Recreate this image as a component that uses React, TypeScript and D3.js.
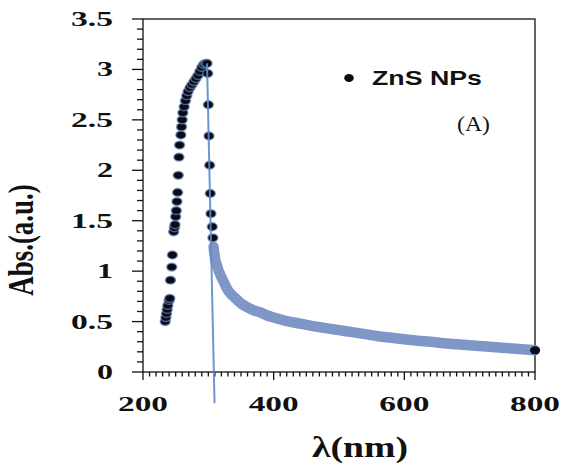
import React, { useEffect, useRef } from "react";
import * as d3 from "d3";

// rising edge + peak + steep fall (drawn as separate dots)
const sparseWl = [
  234, 235, 236, 237, 238, 240, 241, 242, 244, 245, 247, 248, 249, 250, 251,
  252, 253, 254, 255, 256, 258, 259, 260, 261, 263, 265, 267, 269, 272, 275,
  278, 281, 284, 287, 290, 293, 296, 298, 299, 300, 301, 302, 303, 304, 306,
  307,
];
const sparseAbs = [
  0.5, 0.54, 0.58, 0.62, 0.66, 0.71, 0.73, 0.91, 1.04, 1.16, 1.39, 1.43, 1.46,
  1.54, 1.6, 1.69, 1.78, 1.95, 2.13, 2.25, 2.35, 2.43, 2.5, 2.57, 2.63, 2.69,
  2.74, 2.78, 2.82, 2.85, 2.88, 2.91, 2.94, 2.98, 3.02, 3.05, 3.06, 3.06, 2.96,
  2.65, 2.34, 2.05, 1.77, 1.57, 1.44, 1.33,
];

// dense tail, points so close they merge into a band
const tailWl = [
  308, 309, 310, 311, 312, 314, 316, 318, 320, 323, 326, 330, 335, 340, 345,
  350, 360, 370, 380, 390, 400, 420, 440, 460, 480, 500, 520, 540, 560, 580,
  600, 620, 640, 660, 680, 700, 720, 740, 760, 780, 800,
];
const tailAbs = [
  1.24, 1.18, 1.14, 1.1, 1.08, 1.04, 1.0, 0.97, 0.94, 0.9, 0.86, 0.81, 0.77,
  0.74, 0.71, 0.68, 0.64, 0.61, 0.59, 0.56, 0.54, 0.505, 0.48, 0.455, 0.435,
  0.415, 0.395, 0.375, 0.355, 0.34, 0.325, 0.31, 0.3, 0.285, 0.275, 0.265,
  0.255, 0.245, 0.235, 0.225, 0.215,
];

// tangent used for the band gap estimate
const fitWl = [298, 309.5];
const fitAbs = [3.06, -0.31];

const yTickVals = [0, 0.5, 1, 1.5, 2, 2.5, 3, 3.5];
const yTickLabels = ["0", "0.5", "1", "1.5", "2", "2.5", "3", "3.5"];
const xTickVals = [200, 400, 600, 800];
const xTickLabels = ["200", "400", "600", "800"];

const W = 563;
const H = 466;
const plot = { left: 143, right: 535, top: 19, bottom: 372 };
const serif = "'Liberation Serif', 'Times New Roman', serif";

const App: React.FC = () => {
  const svgRef = useRef<SVGSVGElement | null>(null);

  useEffect(() => {
    if (!svgRef.current) return;
    const svg = d3.select(svgRef.current);
    svg.selectAll("*").remove();

    const x = d3.scaleLinear().domain([200, 800]).range([plot.left, plot.right]);
    const y = d3.scaleLinear().domain([0, 3.5]).range([plot.bottom, plot.top]);

    svg.append("rect").attr("width", W).attr("height", H).attr("fill", "#fff");

    // frame
    svg
      .append("rect")
      .attr("x", plot.left)
      .attr("y", plot.top)
      .attr("width", plot.right - plot.left)
      .attr("height", plot.bottom - plot.top)
      .attr("fill", "none")
      .attr("stroke", "#111")
      .attr("stroke-width", 1.3);

    const ticks = svg.append("g").attr("stroke", "#111").attr("stroke-width", 1.3);

    // y ticks (minor every 0.1, major every 0.5)
    ticks
      .selectAll("line.ym")
      .data(d3.range(0, 36).map((i) => i / 10))
      .enter()
      .append("line")
      .attr("x1", (d) => plot.left - (Math.abs(d * 2 - Math.round(d * 2)) < 1e-6 ? 11 : 6))
      .attr("x2", plot.left)
      .attr("y1", (d) => y(d))
      .attr("y2", (d) => y(d));

    // x ticks (minor every 10, major every 200)
    ticks
      .selectAll("line.xm")
      .data(d3.range(200, 801, 10))
      .enter()
      .append("line")
      .attr("x1", (d) => x(d))
      .attr("x2", (d) => x(d))
      .attr("y1", plot.bottom)
      .attr("y2", (d) => plot.bottom + (d % 200 === 0 ? 8 : 4.5));

    // y tick labels
    svg
      .append("g")
      .selectAll("text")
      .data(yTickVals)
      .enter()
      .append("text")
      .attr("x", 113)
      .attr("y", (d) => y(d) + 7)
      .attr("text-anchor", "end")
      .attr("font-family", serif)
      .attr("font-weight", "bold")
      .attr("font-size", 21)
      .attr("fill", "#111")
      .attr("textLength", (_, i) => (yTickLabels[i].length === 1 ? 16 : 42))
      .attr("lengthAdjust", "spacingAndGlyphs")
      .text((_, i) => yTickLabels[i]);

    // x tick labels
    svg
      .append("g")
      .selectAll("text")
      .data(xTickVals)
      .enter()
      .append("text")
      .attr("x", (d) => x(d) - 25)
      .attr("y", 411)
      .attr("font-family", serif)
      .attr("font-weight", "bold")
      .attr("font-size", 22)
      .attr("fill", "#111")
      .attr("textLength", 50)
      .attr("lengthAdjust", "spacingAndGlyphs")
      .text((_, i) => xTickLabels[i]);

    // axis titles
    svg
      .append("text")
      .attr("transform", "translate(33,240) scale(1.3,1) rotate(-90)")
      .attr("text-anchor", "middle")
      .attr("font-family", serif)
      .attr("font-weight", "bold")
      .attr("font-size", 27)
      .attr("fill", "#111")
      .text("Abs.(a.u.)");

    svg
      .append("text")
      .attr("x", 312)
      .attr("y", 457)
      .attr("font-family", serif)
      .attr("font-weight", "bold")
      .attr("font-size", 29)
      .attr("fill", "#111")
      .attr("textLength", 96)
      .attr("lengthAdjust", "spacingAndGlyphs")
      .text("λ(nm)");

    // dense tail as a band
    const tail = tailWl.map((w, i) => [w, tailAbs[i]] as [number, number]);
    svg
      .append("path")
      .datum(tail)
      .attr("fill", "none")
      .attr("stroke", "#7f97c6")
      .attr("stroke-width", 10.5)
      .attr("stroke-linecap", "round")
      .attr("stroke-linejoin", "round")
      .attr(
        "d",
        d3
          .line<[number, number]>()
          .x((d) => x(d[0]))
          .y((d) => y(d[1]))
          .curve(d3.curveMonotoneX)
      );

    // discrete dots
    svg
      .append("g")
      .selectAll("ellipse")
      .data(sparseWl.map((w, i) => [w, sparseAbs[i]]))
      .enter()
      .append("ellipse")
      .attr("cx", (d) => x(d[0]))
      .attr("cy", (d) => y(d[1]))
      .attr("rx", 5)
      .attr("ry", 3.9)
      .attr("fill", "#0b0b14")
      .attr("stroke", "rgba(100,130,185,0.7)")
      .attr("stroke-width", 1.5);

    // last tail point stays black
    svg
      .append("ellipse")
      .attr("cx", x(tailWl[tailWl.length - 1]))
      .attr("cy", y(tailAbs[tailAbs.length - 1]))
      .attr("rx", 5)
      .attr("ry", 4)
      .attr("fill", "#0b0b14");

    // tangent line
    svg
      .append("line")
      .attr("x1", x(fitWl[0]))
      .attr("y1", y(fitAbs[0]))
      .attr("x2", x(fitWl[1]))
      .attr("y2", y(fitAbs[1]))
      .attr("stroke", "#5f8ccc")
      .attr("stroke-width", 2)
      .attr("opacity", 0.9);

    // legend
    svg
      .append("ellipse")
      .attr("cx", 349)
      .attr("cy", 78)
      .attr("rx", 4.8)
      .attr("ry", 4)
      .attr("fill", "#0b0b14");
    svg
      .append("text")
      .attr("x", 372)
      .attr("y", 85)
      .attr("font-family", "'Liberation Sans', Arial, sans-serif")
      .attr("font-weight", "bold")
      .attr("font-size", 21)
      .attr("fill", "#111")
      .attr("textLength", 110)
      .attr("lengthAdjust", "spacingAndGlyphs")
      .text("ZnS NPs");

    svg
      .append("text")
      .attr("x", 457)
      .attr("y", 131)
      .attr("font-family", serif)
      .attr("font-size", 21)
      .attr("fill", "#111")
      .attr("textLength", 33)
      .attr("lengthAdjust", "spacingAndGlyphs")
      .text("(A)");
  }, []);

  return (
    <svg
      ref={svgRef}
      width={W}
      height={H}
      style={{ position: "absolute", left: 0, top: 0 }}
    />
  );
};

export default App;
